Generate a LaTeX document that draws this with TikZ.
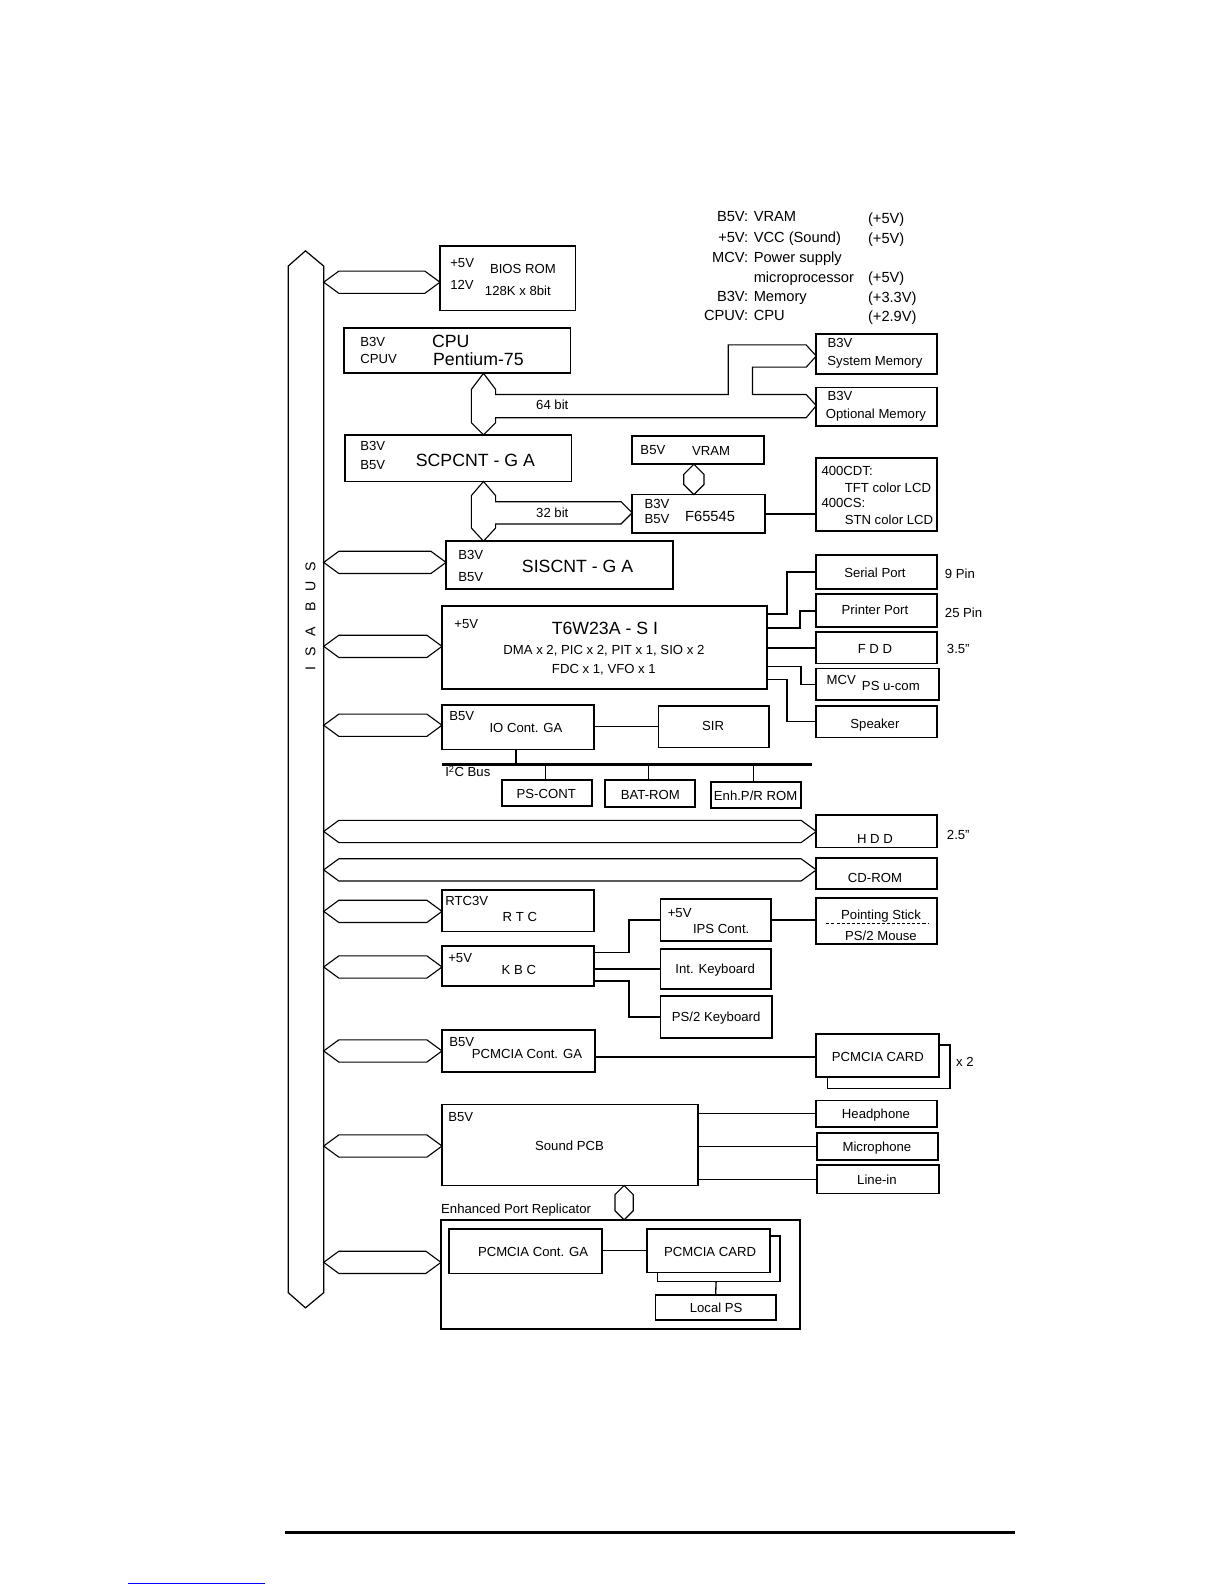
\documentclass[tikz,border=0pt]{standalone}
\usepackage{fontspec}
\setmainfont{Liberation Sans}
\usetikzlibrary{calc}
\tikzset{
  box/.style={draw, line width=1.7pt, inner sep=0pt, outer sep=0pt, anchor=north west},
  bl/.style={line width=1.1pt, line join=miter},
  cn/.style={line width=1.3pt},
  t/.style={inner sep=0pt, font=\fontsize{13}{15}\selectfont, text height=9.3pt, text depth=0pt},
  tl/.style={t, anchor=west},
  big/.style={inner sep=0pt, font=\fontsize{17.5}{20}\selectfont, text height=12.5pt, text depth=0pt},
  bigl/.style={big, anchor=west},
  leg/.style={inner sep=0pt, font=\fontsize{14.5}{17}\selectfont, text height=10.4pt, text depth=0pt},
}
\newcommand\bx[5]{\node[box, minimum width={#4-#2}, minimum height={#5-#3}] (#1) at (#2,#3) {};}
\newcommand\hbus[2]{\draw[bl] (320,#2) -- ++(15,-11) -- ($(#1.west |- 0,#2)+(-15,-11)$) -- (#1.west |- 0,#2) -- ++(-15,11) -- (335,{#2+11}) -- cycle;}
\begin{document}
\begin{tikzpicture}[x=1pt,y=-1pt]
\fill[white] (0,0) rectangle (1211,1567);

% ---------- legend ----------
\node[leg, anchor=east] (l1a) at (740,214) {B5V:};
\node[leg, anchor=west] (l1b) at (745,214) {VRAM};
\node[leg, anchor=west] (l1c) at (858,216) {(+5V)};
\node[leg, anchor=east] (l2a) at (740,235) {+5V:};
\node[leg, anchor=west] (l2b) at (745,235) {VCC (Sound)};
\node[leg, anchor=west] (l2c) at (858,236) {(+5V)};
\node[leg, anchor=east] (l3a) at (740,254) {MCV:};
\node[leg, anchor=west] (l3b) at (745,254) {Power supply};
\node[leg, anchor=west] (l4b) at (745,274) {microprocessor};
\node[leg, anchor=west] (l4c) at (858,274) {(+5V)};
\node[leg, anchor=east] (l5a) at (740,293) {B3V:};
\node[leg, anchor=west] (l5b) at (745,293) {Memory};
\node[leg, anchor=west] (l5c) at (858,294) {(+3.3V)};
\node[leg, anchor=east] (l6a) at (740,312) {CPUV:};
\node[leg, anchor=west] (l6b) at (745,312) {CPU};
\node[leg, anchor=west] (l6c) at (858,313) {(+2.9V)};

% ---------- ISA bus ----------
\draw[line width=1.2pt, line join=miter] (302,248) -- (320,263) -- (320,1278) -- (302,1293) -- (285,1278) -- (285,263) -- cycle;
\node[inner sep=0pt, font=\fontsize{14}{16}\selectfont, rotate=90] (isa) at (307,609)
  {I\hspace{10pt}S\hspace{10pt}A\hspace{16pt}B\hspace{10pt}U\hspace{10pt}S};

% ---------- boxes ----------
\bx{bios}{435}{243}{569}{307}
\bx{cpu}{340}{324}{564}{369}
\bx{sysmem}{807}{330}{926}{370}
\bx{optmem}{807}{383}{926}{421}
\bx{scp}{341}{430}{565}{476}
\bx{vram}{625}{431}{755}{459}
\bx{f65}{625}{489}{756}{527}
\bx{lcd}{807}{453}{926}{525}
\bx{sis}{441}{535}{665}{582}
\bx{t6}{437}{599}{758}{681}
\bx{serial}{807}{549}{926}{582}
\bx{printer}{807}{587}{926}{620}
\bx{fdd}{807}{625}{926}{656}
\bx{mcv}{807}{661}{928}{692}
\bx{speaker}{807}{698}{926}{729}
\bx{io}{437}{697}{587}{741}
\bx{sir}{651}{698}{760}{739}
\bx{pscont}{496}{771}{585}{797}
\bx{batrom}{598}{771}{687}{798}
\bx{enh}{703}{773}{792}{799}
\bx{hdd}{807}{806}{926}{838}
\bx{cdrom}{807}{848}{926}{879}
\bx{rtc}{437}{880}{587}{921}
\bx{kbc}{437}{935}{587}{975}
\bx{ips}{653}{889}{762}{930}
\bx{pstick}{807}{888}{926}{933}
\bx{intkb}{653}{938}{762}{978}
\bx{pskb}{653}{985}{763}{1026}
\bx{pcm}{437}{1018}{588}{1060}
\bx{card}{807}{1022}{928}{1065}
\bx{sound}{437}{1092}{690}{1172}
\bx{hp}{807}{1088}{926}{1114}
\bx{mic}{808}{1120}{927}{1147}
\bx{linein}{808}{1152}{928}{1180}
\bx{epr}{436}{1206}{791}{1314}
\bx{pcmb}{444}{1215}{595}{1259}
\bx{cardb}{640}{1215}{761}{1258}
\bx{lps}{648}{1280}{767}{1305}

% card shadows
\draw[line width=1.7pt] (818,1065) -- (818,1076) -- (939,1076) -- (939,1033) -- (928,1033);
\draw[line width=1.7pt] (650,1258) -- (650,1267) -- (771,1267) -- (771,1222) -- (761,1222);
\coordinate (cardbsh) at (708,1267);

% ---------- texts ----------
\node[tl] (bios1) at (445,260) {+5V};
\node[tl] (bios2) at (445,282) {12V};
\node[t] (bios3) at (517,266) {BIOS ROM};
\node[t] (bios4) at (512,287) {128K x 8bit};

\node[tl] (cpu1) at (356,338) {B3V};
\node[tl] (cpu2) at (356,355) {CPUV};
\node[bigl] (cpu3) at (427,337) {CPU};
\node[bigl] (cpu4) at (428,355) {Pentium-75};

\node[tl] (sm1) at (818,339) {B3V};
\node[t] (sm2) at (865,357) {System Memory};
\node[tl] (om1) at (818,391) {B3V};
\node[t] (om2) at (866,409) {Optional Memory};

\node[tl] (scp1) at (356,441) {B3V};
\node[tl] (scp2) at (356,460) {B5V};
\node[big] (scp3) at (470,455) {SCPCNT - G A};

\node[tl] (vr1) at (633,445) {B5V};
\node[t] (vr2) at (703,446) {VRAM};

\node[tl] (f1) at (637,498) {B3V};
\node[tl] (f2) at (637,513) {B5V};
\node[leg] (f3) at (702,510) {F65545};

\node[tl] (lcd1) at (812,465) {400CDT:};
\node[tl] (lcd2) at (835,482) {TFT color LCD};
\node[tl] (lcd3) at (812,497) {400CS:};
\node[tl] (lcd4) at (835,514) {STN color LCD};

\node[tl] (sis1) at (453,548) {B3V};
\node[tl] (sis2) at (453,570) {B5V};
\node[big] (sis3) at (571,560) {SISCNT - G A};

\node[tl] (t61) at (449,617) {+5V};
\node[big] (t62) at (598,621) {T6W23A - S I};
\node[t] (t63) at (597,642) {DMA x 2, PIC x 2, PIT x 1, SIO x 2};
\node[t] (t64) at (597,661) {FDC x 1, VFO x 1};

\node[t] (ser1) at (865,566) {Serial Port};
\node[tl] (ser2) at (934,567) {9 Pin};
\node[t] (pr1) at (865,603) {Printer Port};
\node[tl] (pr2) at (934,606) {25 Pin};
\node[t] (fd1) at (865,641) {F D D};
\node[tl] (fd2) at (936,641) {3.5\symbol{34}};
\node[tl] (mc1) at (817,672) {MCV};
\node[tl] (mc2) at (852,678) {PS u-com};
\node[t] (sp1) at (865,716) {Speaker};

\node[tl] (io1) at (444,708) {B5V};
\node[t] (io2) at (520,720) {IO Cont. GA};
\node[t] (sir1) at (705,718) {SIR};
\node[tl] (i2c) at (440,763) {I\textsuperscript{2}C Bus};
\node[t] (ps1) at (540,785) {PS-CONT};
\node[t] (ba1) at (643,786) {BAT-ROM};
\node[t] (en1) at (747,787) {Enh.P/R ROM};

\node[t] (hd1) at (865,829) {H D D};
\node[tl] (hd2) at (936,825) {2.5\symbol{34}};
\node[t] (cd1) at (865,868) {CD-ROM};

\node[tl] (rtc1) at (440,891) {RTC3V};
\node[t] (rtc2) at (514,906) {R T C};
\node[tl] (kbc1) at (443,947) {+5V};
\node[t] (kbc2) at (513,959) {K B C};
\node[tl] (ips1) at (660,902) {+5V};
\node[t] (ips2) at (713,918) {IPS Cont.};
\node[t] (pst1) at (871,904) {Pointing Stick};
\node[t] (pst2) at (871,925) {PS/2 Mouse};
\draw[line width=1pt, dash pattern=on 3pt off 2pt] (817,913) -- (918,913);
\node[t] (ik1) at (707,958) {Int. Keyboard};
\node[t] (pk1) at (708,1005) {PS/2 Keyboard};

\node[tl] (pcm1) at (444,1030) {B5V};
\node[t] (pcm2) at (521,1042) {PCMCIA Cont. GA};
\node[t] (card1) at (868,1045) {PCMCIA CARD};
\node[tl] (card2) at (945,1050) {x 2};

\node[tl] (snd1) at (443,1104) {B5V};
\node[t] (snd2) at (563,1133) {Sound PCB};
\node[t] (hp1) at (866,1101) {Headphone};
\node[t] (mic1) at (867,1134) {Microphone};
\node[t] (li1) at (867,1166) {Line-in};

\node[tl] (epr1) at (436,1195) {Enhanced Port Replicator};
\node[t] (pcmb1) at (527,1238) {PCMCIA Cont. GA};
\node[t] (cardb1) at (702,1238) {PCMCIA CARD};
\node[t] (lps1) at (708,1293) {Local PS};

% ---------- ISA bus arrows ----------
\hbus{bios}{279}
\hbus{sis}{556}
\hbus{t6}{639}
\hbus{io}{717}
\hbus{hdd}{822}
\hbus{cdrom}{860}
\hbus{rtc}{901}
\hbus{kbc}{956}
\hbus{pcm}{1039}
\hbus{sound}{1133}
\hbus{epr}{1248}

% ---------- 64 bit bus ----------
\draw[bl] (cpu.south -| 478,0) -- (490,385) -- (490,390) -- (720,390) -- (720,341)
  -- (797,341) -- (sysmem.west |- 0,352) -- (797,363) -- (744,363) -- (744,390)
  -- (797,390) -- (optmem.west |- 0,401) -- (797,413) -- (490,413) -- (490,418)
  -- (scp.north -| 478,0) -- (466,418) -- (466,385) -- cycle;
\node[t] (b64) at (546,400) {64 bit};

% ---------- 32 bit bus ----------
\draw[bl] (scp.south -| 478,0) -- (490,490) -- (490,496) -- (614,496)
  -- (f65.west |- 0,507) -- (614,518) -- (490,518) -- (490,522)
  -- (sis.north -| 478,0) -- (466,522) -- (466,490) -- cycle;
\node[t] (b32) at (546,507) {32 bit};

% VRAM - F65545
\draw[bl] (vram.south -| 686,0) -- (696,469) -- (696,479) -- (f65.north -| 686,0) -- (676,479) -- (676,469) -- cycle;
% Sound - replicator
\draw[bl] (sound.south -| 617,0) -- (626,1181) -- (626,1197) -- (epr.north -| 617,0) -- (608,1197) -- (608,1181) -- cycle;

% ---------- connectors ----------
\draw[cn] (f65.east) -- (f65.east -| lcd.west);
\draw[cn] (t6.east |- 0,607) -- (778,607) |- (serial.west);
\draw[cn] (t6.east |- 0,621) -- (791,621) |- (printer.west |- 0,604);
\draw[cn] (t6.east |- fdd.west) -- (fdd.west);
\draw[cn] (t6.east |- 0,659) -- (792,659) |- (mcv.west);
\draw[cn] (t6.east |- 0,672) -- (778,672) |- (speaker.west |- 0,713);

\draw[cn] (io.east |- sir.west) -- (sir.west);
\coordinate (i2cL) at (437,756);
\coordinate (i2cR) at (803,756);
\draw[line width=2.6pt] (i2cL) -- (i2cR);
\draw[cn] (io.south -| 510,0) -- (i2cL -| 510,0);
\draw[cn] (pscont.north -| 539,0) -- (i2cL -| 539,0);
\draw[cn] (batrom.north -| 641,0) -- (i2cL -| 641,0);
\draw[cn] (enh.north -| 745,0) -- (i2cL -| 745,0);

\draw[cn] (kbc.east |- 0,942) -- (622,942) |- (ips.west);
\draw[cn] (kbc.east |- intkb.west) -- (intkb.west);
\draw[cn] (kbc.east |- 0,970) -- (622,970) |- (pskb.west);
\draw[cn] (ips.east) -- (ips.east -| pstick.west);

\draw[cn] (pcm.east |- 0,1045) -- (card.west |- 0,1045);
\draw[cn] (sound.east |- hp.west) -- (hp.west);
\draw[cn] (sound.east |- mic.west) -- (mic.west);
\draw[cn] (sound.east |- linein.west) -- (linein.west);

\draw[cn] (pcmb.east |- cardb.west) -- (cardb.west);
\draw[cn] (cardbsh) -- (lps.north);

% ---------- footer ----------
\draw[line width=3pt] (282,1515) -- (1003,1515);
\draw[blue, line width=1.2pt] (127,1565.6) -- (262,1565.6);

\pgfresetboundingbox
\useasboundingbox (0,0) rectangle (1211,1567);
\end{tikzpicture}
\end{document}
